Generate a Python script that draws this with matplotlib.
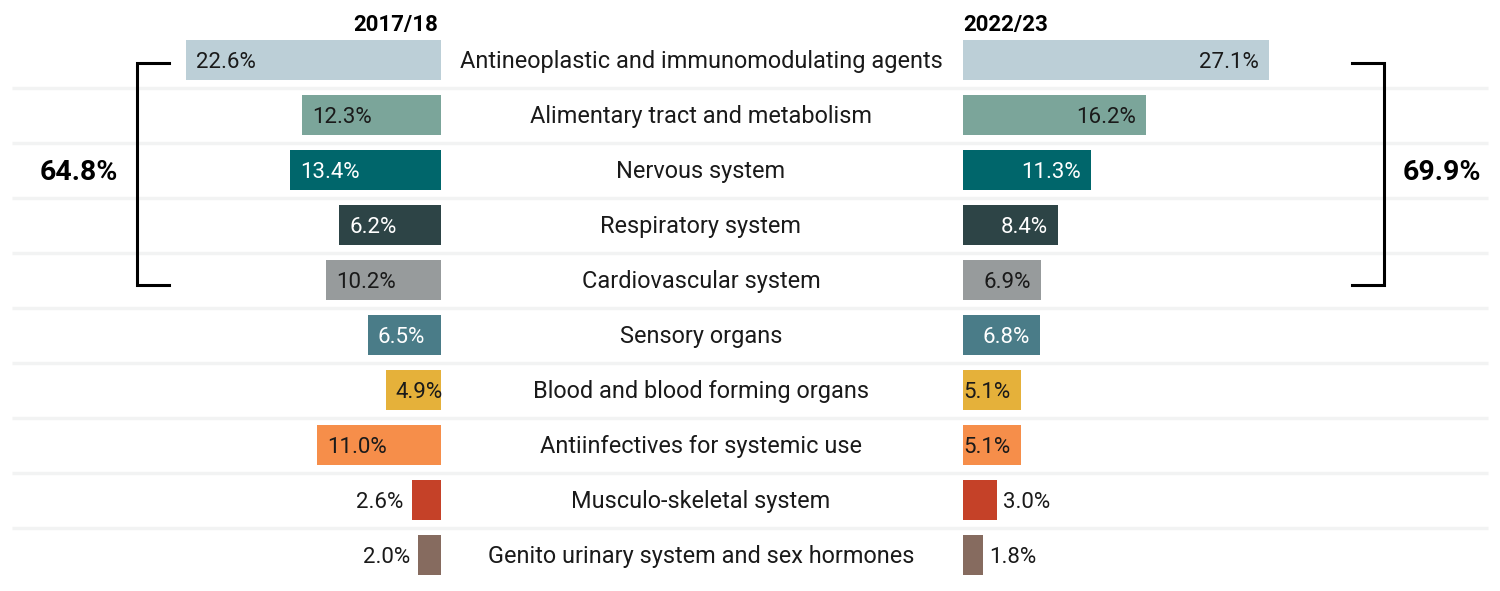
import matplotlib
matplotlib.use("Agg")
import matplotlib.pyplot as plt
import matplotlib.transforms as mtrans

categories = [
    "Antineoplastic and immunomodulating agents",
    "Alimentary tract and metabolism",
    "Nervous system",
    "Respiratory system",
    "Cardiovascular system",
    "Sensory organs",
    "Blood and blood forming organs",
    "Antiinfectives for systemic use",
    "Musculo-skeletal system",
    "Genito urinary system and sex hormones",
]
# bar lengths as drawn in the picture (%)
bars_1718 = [22.6, 12.3, 13.4, 9.0, 10.2, 6.5, 4.9, 11.0, 2.6, 2.0]
bars_2223 = [27.1, 16.2, 11.3, 8.4, 6.9, 6.8, 5.1, 5.1, 3.0, 1.8]
# value labels as printed
labels_1718 = ["22.6%", "12.3%", "13.4%", "6.2%", "10.2%", "6.5%", "4.9%", "11.0%", "2.6%", "2.0%"]
labels_2223 = ["27.1%", "16.2%", "11.3%", "8.4%", "6.9%", "6.8%", "5.1%", "5.1%", "3.0%", "1.8%"]
colors = ["#bccfd7", "#7ba59a", "#00666b", "#2d4446", "#979b9c",
          "#4a7c88", "#e5b13a", "#f68e4a", "#c54128", "#866b5f"]
text_colors = ["#1a1a1a", "#1a1a1a", "white", "white", "#1a1a1a",
               "white", "#1a1a1a", "#1a1a1a", "#1a1a1a", "#1a1a1a"]
period_labels = ["2017/18", "2022/23"]
top5_totals = ["64.8%", "69.9%"]

FONT = "Roboto"
plt.rcParams["font.family"] = [FONT, "DejaVu Sans"]

W, H = 1500, 591
fig = plt.figure(figsize=(W / 100, H / 100), dpi=100)

PX_PER_PCT = 11.29
ROW0, ROWH = 60, 55
BAR_H = 40
n = len(categories)
LBL_FS = 16
CAT_FS = 16.9
PT = 0.72  # points per pixel at 100 dpi

def ylims():
    return ((H - ROW0) / ROWH, -ROW0 / ROWH)

# overlay axes in pixel coords
ov = fig.add_axes([0, 0, 1, 1])
ov.set_xlim(0, W)
ov.set_ylim(H, 0)
ov.axis("off")
for i in range(n - 1):
    y = ROW0 + ROWH * i + ROWH / 2
    ov.plot([12, 1488], [y, y], color="#f2f3f3", lw=2.4, zorder=0,
            solid_capstyle="butt")

# left axes
left_edge = 441
axL = fig.add_axes([0, 0, left_edge / W, 1])
axL.set_xlim(left_edge / PX_PER_PCT, 0)
axL.set_ylim(*ylims())
axL.axis("off")
axL.barh(range(n), bars_1718, height=BAR_H / ROWH, color=colors, zorder=2)

# right axes
right_edge = 963
axR = fig.add_axes([right_edge / W, 0, 1 - right_edge / W, 1])
axR.set_xlim(0, (W - right_edge) / PX_PER_PCT)
axR.set_ylim(*ylims())
axR.axis("off")
axR.barh(range(n), bars_2223, height=BAR_H / ROWH, color=colors, zorder=2)

cap = 0.711 * LBL_FS / PT  # cap height in px
dy = -cap / 2 * PT
offL_in = mtrans.offset_copy(axL.transData, fig=fig, x=10 * PT, y=dy, units="points")
offL_out = mtrans.offset_copy(axL.transData, fig=fig, x=-8 * PT, y=dy, units="points")
offR_in = mtrans.offset_copy(axR.transData, fig=fig, x=-10 * PT, y=dy, units="points")
offR_out = mtrans.offset_copy(axR.transData, fig=fig, x=6 * PT, y=dy, units="points")

for i, (v, s) in enumerate(zip(bars_1718, labels_1718)):
    if v >= 4:
        axL.text(v, i, s, ha="left", va="baseline", color=text_colors[i],
                 fontsize=LBL_FS, transform=offL_in, zorder=3)
    else:
        axL.text(v, i, s, ha="right", va="baseline", color="#1a1a1a",
                 fontsize=LBL_FS, transform=offL_out, zorder=3)
for i, (v, s) in enumerate(zip(bars_2223, labels_2223)):
    if v >= 4:
        axR.text(v, i, s, ha="right", va="baseline", color=text_colors[i],
                 fontsize=LBL_FS, transform=offR_in, zorder=3)
    else:
        axR.text(v, i, s, ha="left", va="baseline", color="#1a1a1a",
                 fontsize=LBL_FS, transform=offR_out, zorder=3)

# category labels
ccap = 0.711 * CAT_FS / PT
for i, c in enumerate(categories):
    ov.text(701, ROW0 + ROWH * i + ccap / 2, c, ha="center", va="baseline",
            fontsize=CAT_FS, color="#1a1a1a")

# headers
ov.text(438, 31, period_labels[0], ha="right", va="baseline", fontsize=16,
        fontweight="bold", color="black")
ov.text(963, 31, period_labels[1], ha="left", va="baseline", fontsize=16,
        fontweight="bold", color="black")

# brackets
ov.plot([169, 137, 137, 169], [63, 63, 285, 285], color="black", lw=2.2,
        solid_joinstyle="miter")
ov.plot([1352, 1384, 1384, 1352], [63, 63, 285, 285], color="black", lw=2.2,
        solid_joinstyle="miter")
ov.text(79, 180, top5_totals[0], ha="center", va="baseline", fontsize=20.5,
        fontweight="bold", color="black")
ov.text(1442, 180, top5_totals[1], ha="center", va="baseline", fontsize=20.5,
        fontweight="bold", color="black")

fig.savefig("out.png", dpi=100, facecolor="white")
